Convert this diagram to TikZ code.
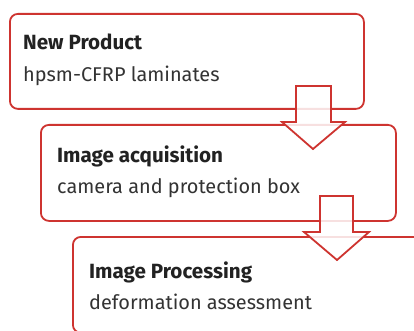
\documentclass[tikz,border=0pt]{standalone}
\usepackage{fontspec}
\setmainfont{Fira Sans}
\definecolor{boxred}{RGB}{206,52,48}
\definecolor{titlegray}{RGB}{34,34,34}
\definecolor{subgray}{RGB}{51,51,51}
\begin{document}
\begin{tikzpicture}[x=1pt,y=-1pt,
  stagebox/.style={draw=boxred,line width=1.8pt,rounded corners=8pt,fill=white,
    minimum width=354pt,minimum height=95pt,inner sep=0pt,anchor=north west},
  titletext/.style={anchor=base west,inner sep=0pt,text=titlegray,font=\fontsize{20.6}{24}\selectfont\bfseries},
  subtext/.style={anchor=base west,inner sep=0pt,text=subgray,font=\fontsize{19.9}{24}\selectfont},
  flowarrow/.style={draw=boxred,line width=1.8pt,fill=white,fill opacity=0.85,line join=miter}]
\useasboundingbox (0,0) rectangle (414,331);
\fill[white] (0,0) rectangle (414,331);
% boxes
\node[stagebox] (b1) at (9,13) {};
\node[stagebox,minimum width=355pt,minimum height=96pt] (b2) at (40,124) {};
\node[stagebox,minimum width=355pt,minimum height=96pt] (b3) at (72,236) {};
% texts
\node[titletext] (t1) at (23,50) {New Product};
\node[subtext] (s1) at (23,82) {hpsm-CFRP laminates};
\node[titletext] (t2) at (57,162) {Image acquisition};
\node[subtext] (s2) at (57,193) {camera and protection box};
\node[titletext] (t3) at (89,278) {Image Processing};
\node[subtext] (s3) at (89,309) {deformation assessment};
% arrows
\draw[flowarrow] (296,86) -- (331,86) -- (331,122) -- (345,122) -- (313,149) -- (282,122) -- (296,122) -- cycle;
\draw[flowarrow] (320,196) -- (353,196) -- (353,232) -- (369,232) -- (337,260) -- (304,232) -- (320,232) -- cycle;
\end{tikzpicture}
\end{document}
